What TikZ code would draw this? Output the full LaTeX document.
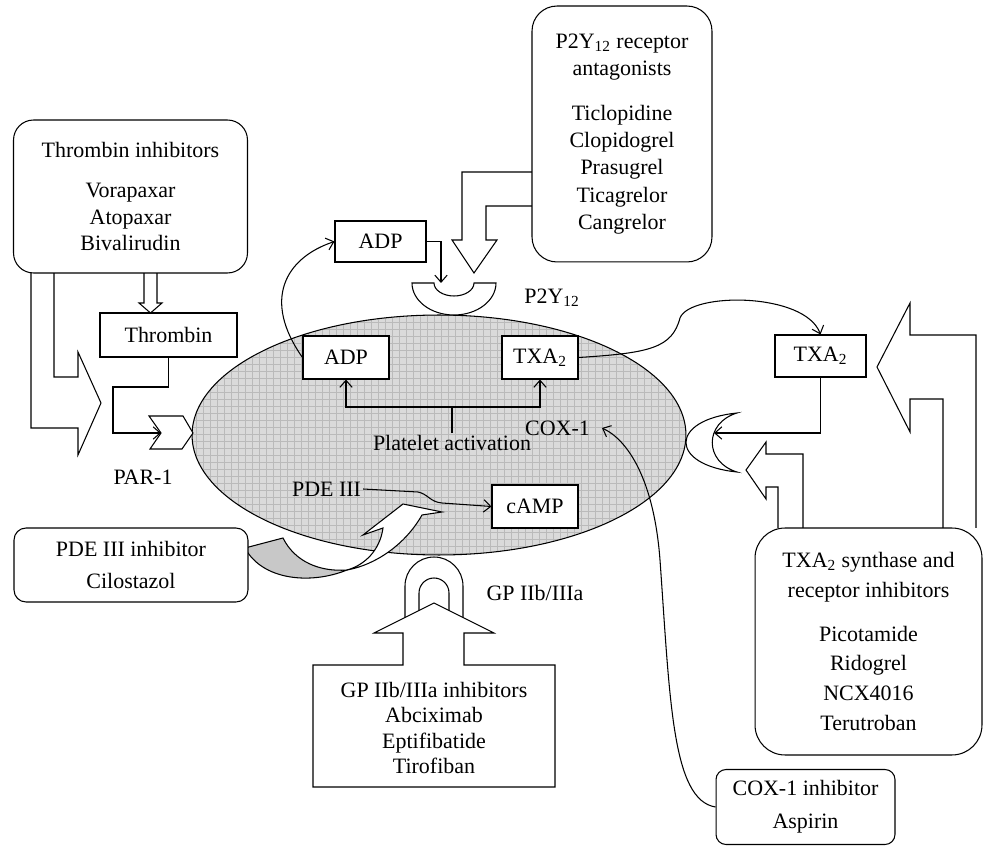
\documentclass[tikz,border=0pt]{standalone}
\usepackage{fontspec}
\setmainfont{Liberation Serif}
\usetikzlibrary{arrows.meta,calc}
\definecolor{cellfill}{HTML}{DADADA}
\definecolor{cellgrid}{HTML}{BABABA}
\definecolor{ribbon}{HTML}{C8C8C8}
\tikzset{
  box/.style={draw, fill=white, line width=0.6pt, align=center,
              font=\fontsize{12.5}{15}\selectfont, inner sep=2pt},
  rbox/.style={box},
  ar/.style={-{Straight Barb[length=4pt,width=7pt]}, line width=0.6pt},
  blk/.style={draw, fill=white, line width=0.6pt, line join=miter},
  lbl/.style={font=\fontsize{12.5}{15}\selectfont, inner sep=1pt}
}

\begin{document}
\begin{tikzpicture}[x=0.02cm,y=-0.02cm]
  \useasboundingbox (0,0) rectangle (987,847);

  % the platelet
  \begin{scope}
    \clip (439,435) ellipse [x radius=4.94cm, y radius=2.4cm];
    \fill[cellfill] (180,570) rectangle (700,300);
    \draw[cellgrid, line width=0.3pt, step=0.14cm] (180,570) grid (700,300);
  \end{scope}
  \draw[line width=0.6pt] (439,435) ellipse [x radius=4.94cm, y radius=2.4cm];

  \node[box, minimum width=1.72cm, minimum height=0.86cm] (adpin) at (346,357.5) {ADP};
  \node[box, minimum width=1.52cm, minimum height=0.86cm] (txain) at (540,357.5) {TXA\textsubscript{2}};
  \node[box, minimum width=1.72cm, minimum height=0.86cm] (camp) at (535,506.5) {cAMP};
  \node[lbl] (plt) at (452,443) {Platelet activation};
  \node[lbl] (cox) at (557.5,428) {COX-1};
  \node[lbl] (pde) at (326.5,489) {PDE III};

  % receptors
  \draw[blk] (412,283) arc[start angle=180, end angle=360, x radius=0.84cm, y radius=0.64cm]
    -- (474,283) arc[start angle=0, end angle=-180, x radius=0.4cm, y radius=0.26cm] -- cycle;
  \draw[blk] (405,622) -- (405,586) arc[start angle=180, end angle=0, radius=0.58cm]
    -- (463,622) -- (449,622) -- (449,593) arc[start angle=0, end angle=180, radius=0.3cm]
    -- (419,622) -- cycle;
  \draw[blk] (737,413) .. controls (669,420) and (669,465) .. (737,472)
    .. controls (704,462) and (704,423) .. (737,413) -- cycle;
  \draw[blk] (149,416) -- (183,416) -- (193,433) -- (182,449) -- (150,449) -- (161,433) -- cycle;
  \coordinate (p2ytop) at (441,283);
  \coordinate (parnotch) at (161,433);
  \coordinate (txrec) at (714,433);

  % cilostazol ribbon
  \draw[line width=0.6pt, fill=ribbon] (245,548) -- (283,538)
    .. controls (295,562) and (320,572) .. (347,570)
    .. controls (310,585) and (262,580) .. (245,548) -- cycle;
  \draw[blk] (347,570) .. controls (375,565) and (405,545) .. (422,515)
    -- (442,512) -- (403,504) -- (363,535) -- (383,528)
    .. controls (380,550) and (365,565) .. (347,570) -- cycle;

  % block arrows
  \draw[blk] (31,273) -- (31,428) -- (78,428) -- (78,455) -- (101,403) -- (78,352)
    -- (78,377) -- (54,377) -- (54,273);
  \draw[blk] (144,273) -- (144,303) -- (139,303) -- (150.5,313) -- (162,303) -- (157,303) -- (157,273);
  \draw[blk] (532,172) -- (462,172) -- (462,240) -- (452,240) -- (474,273) -- (497,240)
    -- (486,240) -- (486,206) -- (532,206);
  \draw[blk] (976,528) -- (976,335) -- (910,335) -- (910,303) -- (877,367) -- (910,432)
    -- (910,399) -- (943,399) -- (943,528);
  \draw[blk] (803,528) -- (803,454) -- (766,454) -- (766,442) -- (746,470) -- (766,499)
    -- (766,487) -- (778,487) -- (778,528);
  \draw[blk] (313,665) -- (403,665) -- (403,633) -- (374,633) -- (434,603) -- (494,633)
    -- (464,633) -- (464,665) -- (555,665) -- (555,787) -- (313,787) -- cycle;

  % drug boxes
  \node[rbox, rounded corners=0.4cm, minimum width=4.68cm, minimum height=3.06cm] (thrinh) at (130.5,196.5)
    {Thrombin inhibitors\\[8pt]Vorapaxar\\Atopaxar\\Bivalirudin};
  \node[rbox, rounded corners=0.5cm, minimum width=3.6cm, minimum height=5.12cm,
        font=\fontsize{12.5}{15.5}\selectfont] (p2yinh) at (622,134)
    {P2Y\textsubscript{12} receptor\\antagonists\\[10pt]Ticlopidine\\Clopidogrel\\Prasugrel\\Ticagrelor\\Cangrelor};
  \node[rbox, rounded corners=0.6cm, minimum width=4.54cm, minimum height=4.54cm,
        font=\fontsize{12.5}{17}\selectfont] (txinh) at (868.5,641.5)
    {TXA\textsubscript{2} synthase and\\receptor inhibitors\\[8pt]Picotamide\\Ridogrel\\NCX4016\\Terutroban};
  \node[rbox, rounded corners=0.24cm, minimum width=4.68cm, minimum height=1.48cm,
        font=\fontsize{12.5}{18}\selectfont] (pdeinh) at (131,565) {PDE III inhibitor\\Cilostazol};
  \node[rbox, rounded corners=0.2cm, minimum width=3.58cm, minimum height=1.5cm,
        font=\fontsize{12.5}{19}\selectfont] (coxinh) at (805.5,807) {COX-1 inhibitor\\Aspirin};
  \node[lbl, align=center, font=\fontsize{12.5}{14.5}\selectfont] (gpinh) at (434,728)
    {GP IIb/IIIa inhibitors\\Abciximab\\Eptifibatide\\Tirofiban};

  \node[box, minimum width=2.74cm, minimum height=0.88cm] (thr) at (168.5,335) {Thrombin};
  \node[box, minimum width=1.82cm, minimum height=0.82cm] (adpout) at (380.5,241.5) {ADP};
  \node[box, minimum width=1.82cm, minimum height=0.84cm] (txaout) at (820.5,356) {TXA\textsubscript{2}};

  \node[lbl] (p2ylbl) at (552,298) {P2Y\textsubscript{12}};
  \node[lbl] (parlbl) at (143,477) {PAR-1};
  \node[lbl] (gplbl) at (535,593) {GP IIb/IIIa};

  % connectors
  \coordinate (fork) at (452,407);
  \draw[line width=0.6pt] (plt.north) -- (fork);
  \draw[ar] (fork) -| (adpin.south);
  \draw[ar] (fork) -| (txain.south);
  \draw[ar] (adpin.west) .. controls (262,300) and (285,258) .. (adpout.west);
  \draw[ar] (adpout.east) -| (p2ytop);
  \draw[ar] (thr.south) |- (113,387) |- (parnotch);
  \draw[ar] (txain.east) .. controls (650,353) and (672,348) .. (680,318)
    .. controls (690,292) and (805,292) .. (txaout.north);
  \draw[ar] (txaout.south) |- (txrec);
  \draw[ar] (pde.east) -- (418,492) .. controls (428,494) and (430,502) .. (442,503) -- (camp.west);
  \draw[ar] (coxinh.west) .. controls (672,800) and (670,700) .. (660,560)
    .. controls (654,480) and (628,440) .. ([xshift=0.2cm]cox.east);
\end{tikzpicture}
\end{document}
